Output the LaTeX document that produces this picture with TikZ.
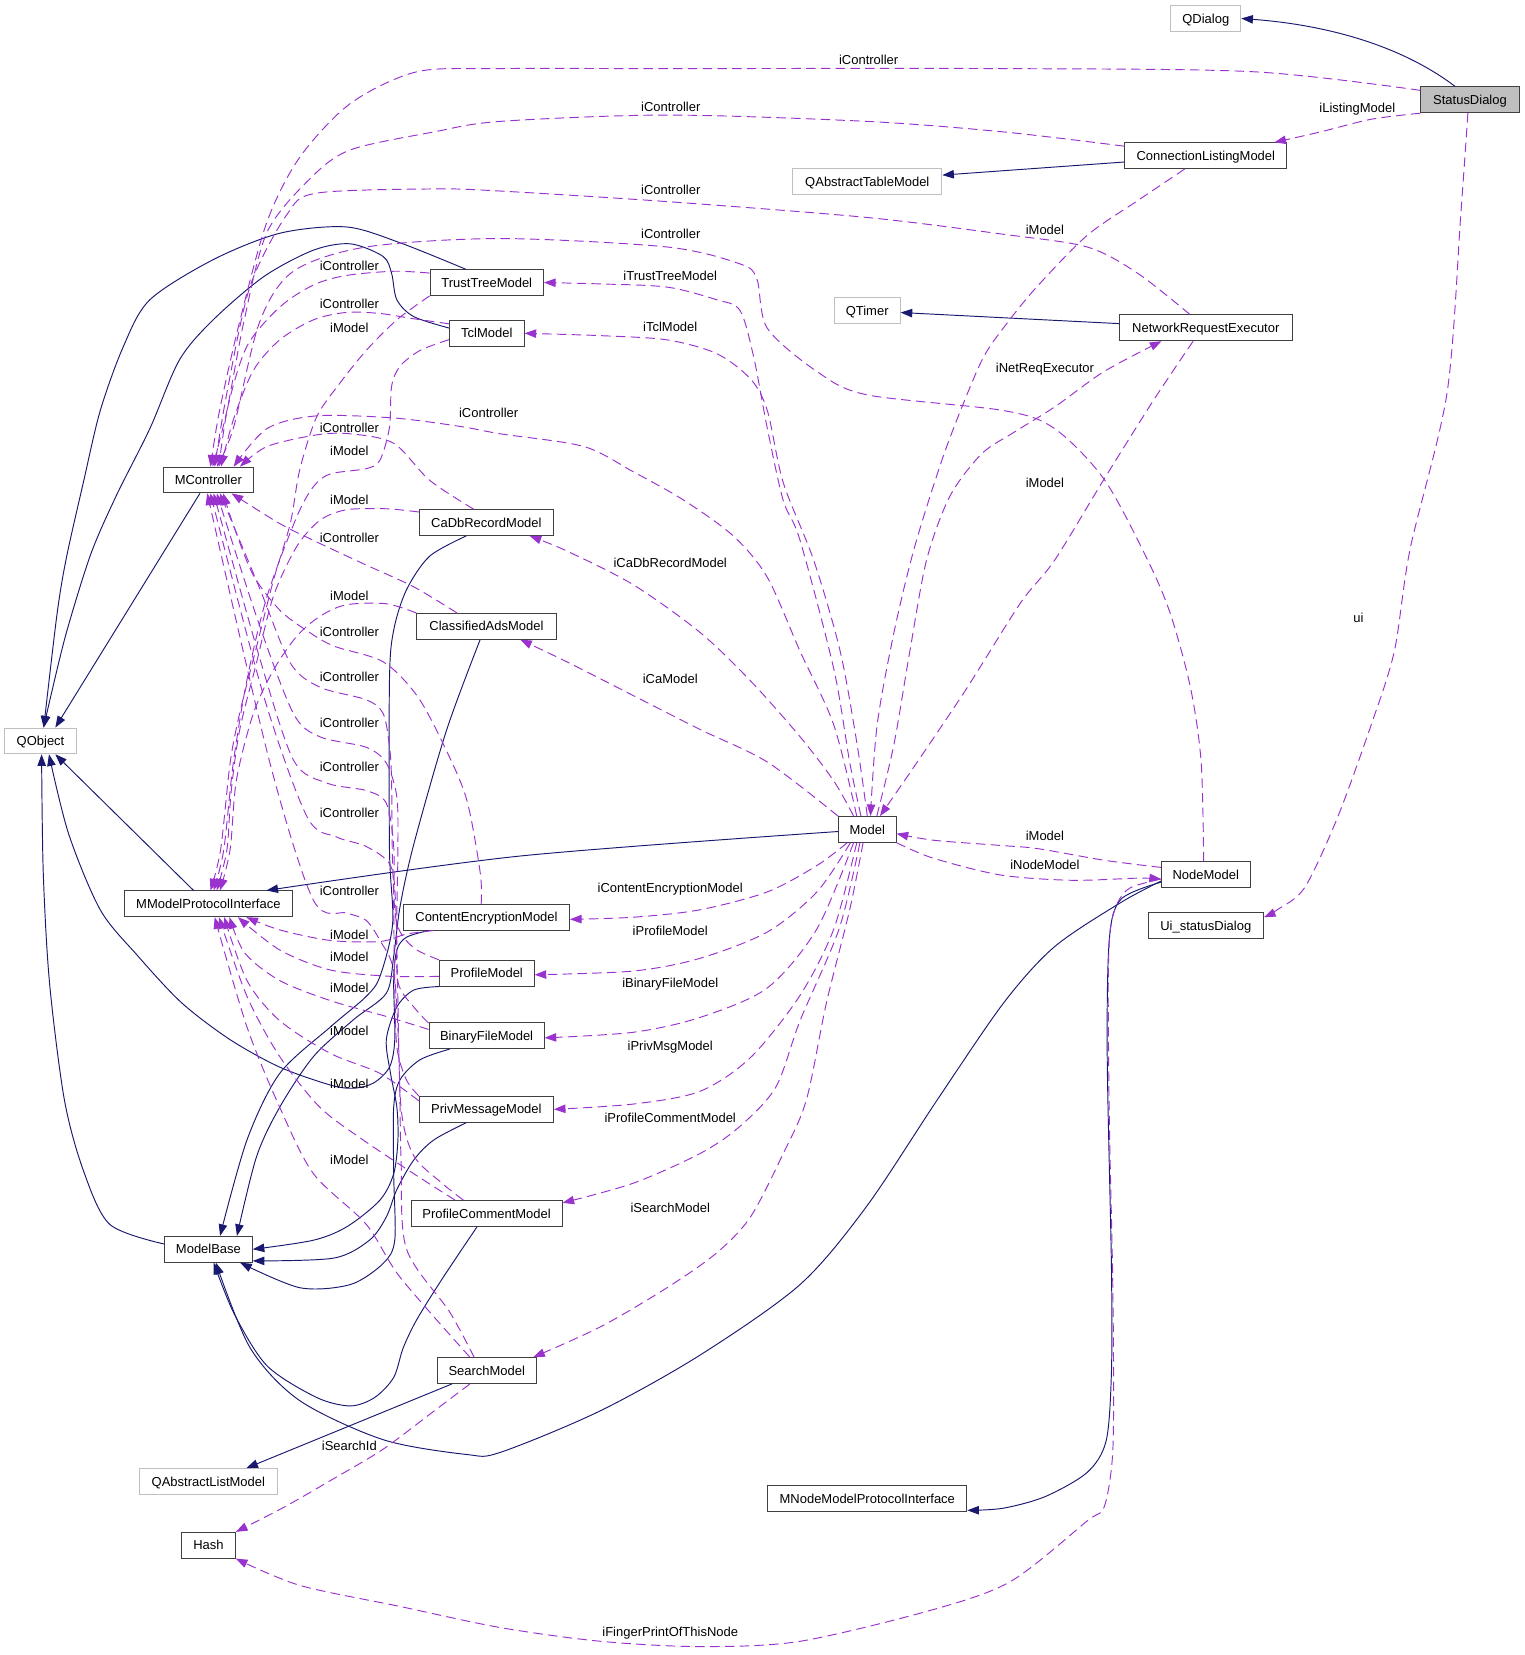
\documentclass[tikz,border=0pt]{standalone}
\usepackage{fontspec}
\setmainfont{Liberation Sans}
\usetikzlibrary{arrows.meta}

\definecolor{inhblue}{HTML}{191970}
\definecolor{usepurple}{HTML}{9A32CD}
\definecolor{extgray}{HTML}{BFBFBF}

\begin{document}
\begin{tikzpicture}[x=1pt, y=-1pt,
    every node/.style={font=\fontsize{12.3}{14}\selectfont},
    cls/.style={draw=black!75, line width=0.9pt, fill=white, minimum height=24.4pt,
      inner xsep=1pt, inner ysep=0pt, text height=8.8pt, text depth=0pt},
    ext/.style={cls, draw=extgray},
    lbl/.style={inner sep=0pt, text height=8.8pt, text depth=0pt},
    inh/.style={draw=inhblue, line width=0.9pt, smooth, -{Triangle[length=11pt,width=8pt]}},
    dep/.style={draw=usepurple, line width=0.9pt, smooth, dash pattern=on 9pt off 5pt,
      -{Triangle[length=11pt,width=8pt]}}]
  \useasboundingbox (0,0) rectangle (1444,1568);

  % classes
  \node[ext, minimum width=66.4pt] (QDialog) at (1142.4,17.5) {QDialog};
  \node[cls, fill=extgray, minimum width=93.3pt] (StatusDialog) at (1392.7,94.6) {StatusDialog};
  \node[cls, minimum width=153.5pt] (CLM) at (1142.4,147.5) {ConnectionListingModel};
  \node[ext, minimum width=141.2pt] (QATM) at (821.7,171.9) {QAbstractTableModel};
  \node[ext, minimum width=62.5pt] (QTimer) at (821.6,294.1) {QTimer};
  \node[cls, minimum width=163.6pt] (NRE) at (1142.4,310.6) {NetworkRequestExecutor};
  \node[cls, minimum width=107.4pt] (TrustTreeModel) at (461.2,267.7) {TrustTreeModel};
  \node[cls, minimum width=70.7pt] (TclModel) at (461.2,315.8) {TclModel};
  \node[cls, minimum width=85.2pt] (MController) at (197.4,454.8) {MController};
  \node[cls, minimum width=127pt] (CaDb) at (460.8,495.1) {CaDbRecordModel};
  \node[cls, minimum width=132pt] (ClassifiedAdsModel) at (460.9,593.4) {ClassifiedAdsModel};
  \node[ext, minimum width=68pt] (QObject) at (38.4,702) {QObject};
  \node[cls, minimum width=54.6pt] (Model) at (821.7,785.8) {Model};
  \node[cls, minimum width=84pt] (NodeModel) at (1142.4,828.8) {NodeModel};
  \node[cls, minimum width=158.6pt] (MMPI) at (197.4,856.3) {MModelProtocolInterface};
  \node[cls, minimum width=157.3pt] (CEM) at (460.9,869) {ContentEncryptionModel};
  \node[cls, minimum width=109.3pt] (Ui) at (1142.4,877) {Ui\_statusDialog};
  \node[cls, minimum width=89.7pt] (ProfileModel) at (461.2,922) {ProfileModel};
  \node[cls, minimum width=109pt] (BinaryFileModel) at (461,981.3) {BinaryFileModel};
  \node[cls, minimum width=127pt] (PrivMessageModel) at (460.8,1051) {PrivMessageModel};
  \node[cls, minimum width=143pt] (PCM) at (461,1149.6) {ProfileCommentModel};
  \node[cls, minimum width=83pt] (ModelBase) at (197.5,1183.6) {ModelBase};
  \node[cls, minimum width=93.5pt] (SearchModel) at (461.2,1298.5) {SearchModel};
  \node[ext, minimum width=130.8pt] (QALM) at (197.4,1403.6) {QAbstractListModel};
  \node[cls, minimum width=188.6pt] (MNMPI) at (821.7,1419.9) {MNodeModelProtocolInterface};
  \node[cls, minimum width=51pt] (Hash) at (197.5,1464) {Hash};

  % inheritance
  \draw[inh] ([xshift=-14pt]StatusDialog.north) .. controls (1330,45) and (1262,24) .. (QDialog.east);
  \draw[inh] ([yshift=-6pt]CLM.west) -- ([yshift=6pt]QATM.east);
  \draw[inh] ([yshift=4pt]NRE.west) -- ([yshift=-2pt]QTimer.east);
  \draw[inh] ([xshift=-8pt]MController.south) -- ([xshift=14pt]QObject.north);
  \draw[inh] ([xshift=-14pt]MMPI.north) -- ([xshift=14pt]QObject.south);
  \draw[inh] plot coordinates {([yshift=5pt]ModelBase.west) (104,1160) (79,1109) (61,1042) (47,932) (41,827) ([xshift=1pt]QObject.south)};
  \draw[inh] plot coordinates {([xshift=-20pt]TrustTreeModel.north) (379,230) (328,215) (265,221) (202,246) (142,284) (117,328) (95,389) (79,457) (63,528) (54,582) ([xshift=3pt]QObject.north)};
  \draw[inh] plot coordinates {([yshift=5pt]TclModel.west) (392,300) (376,284) (371,259) (363,243) (332,231) (297,237) (250,262) (202,303) (170,341) (142,406) (110,470) (86,525) (63,599) (48,660) ([xshift=3pt]QObject.north)};
  \draw[inh] plot coordinates {([yshift=-2pt]Model.west) (493,811) ([xshift=55pt]MMPI.north)};
  \draw[inh] plot coordinates {([xshift=-19pt]CaDb.south) (407,527) (385,559) (373,597) (369,644) (369,805) (372,875) (360,925) (347,944) (313,973) (265,1017) (234,1080) ([xshift=11pt]ModelBase.north)};
  \draw[inh] plot coordinates {([xshift=-6pt]ClassifiedAdsModel.south) (423,692) (392,800) (379,859) (373,906) (366,941) (335,966) (297,1001) (265,1049) (243,1096) ([xshift=27pt]ModelBase.north)};
  \draw[inh] plot coordinates {([xshift=-55pt]CEM.south) (385,888) (376,900) (373,929) (374,985) (369,1011) (354,1026) (335,1031) (313,1028) (265,1011) (218,985) (172,950) (130,905) (95,862) (65,790) ([xshift=8pt]QObject.south)};
  \draw[inh] plot coordinates {(ProfileModel.south west) (392,938) (376,954) (366,985) (370,1017) (376,1049) (377,1080) (373,1112) (360,1137) (329,1162) (297,1175) (ModelBase.east)};
  \draw[inh] plot coordinates {([xshift=-35pt]BinaryFileModel.south) (398,1004) (379,1023) (373,1049) (373,1112) (374,1175) (363,1197) (332,1217) (284,1220) ([xshift=30pt]ModelBase.south)};
  \draw[inh] plot coordinates {([xshift=-19pt]PrivMessageModel.south) (411,1080) (392,1099) (376,1127) (366,1153) (350,1175) (316,1192) ([yshift=-11pt]ModelBase.east)};
  \draw[inh] plot coordinates {([xshift=-9pt]PCM.south) (420,1210) (395,1250) (382,1277) (373,1305) (355,1324) (332,1332) (300,1324) (253,1294) (222,1245) ([xshift=5pt]ModelBase.south)};
  \draw[inh] plot coordinates {([yshift=-6pt]NodeModel.west) (1062,855) (999,897) (951,950) (888,1042) (821,1143) (758,1217) (663,1284) (568,1337) (474,1376) (442,1378) (363,1364) (284,1327) (237,1277) ([xshift=7pt]ModelBase.south)};
  \draw[inh] ([xshift=-33pt]SearchModel.south) -- ([xshift=36pt]QALM.north);
  \draw[inh] plot coordinates {([yshift=-7pt]NodeModel.west) (1062,852) (1051,890) (1049,1000) (1053,1200) (1053,1300) (1048,1365) (1030,1395) (990,1418) (950,1429) ([yshift=-11pt]MNMPI.east)};

  % usage: iController
  \draw[dep] plot coordinates {([yshift=9pt]StatusDialog.west) (1188,68) (951,65) (632,65) (474,65) (395,68) (332,98) (284,149) (253,210) (227,305) (208,389) ([xshift=2pt]MController.north)};
  \draw[dep] plot coordinates {([yshift=9pt]CLM.west) (951,125) (821,115) (632,109) (474,115) (411,125) (332,142) (294,169) (253,220) (231,305) (215,389) ([xshift=4pt]MController.north)};
  \draw[dep] plot coordinates {([xshift=-15pt]NRE.north) (1078,259) (1030,234) (951,222) (821,206) (632,191) (474,181) (411,179) (300,183) (272,203) (237,271) (215,372) ([xshift=6pt]MController.north)};
  \draw[dep] plot coordinates {([xshift=-2pt]NodeModel.north) (1138,722) (1128,652) (1109,582) (1087,530) (1046,454) (999,406) (951,389) (821,374) (774,352) (727,311) (717,264) (701,250) (632,234) (474,226) (347,234) (278,257) (246,305) (221,406) ([xshift=8pt]MController.north)};
  \draw[dep] plot coordinates {([yshift=9pt]TrustTreeModel.west) (373,257) (328,261) (297,270) (265,291) (234,328) (216,385) ([xshift=10pt]MController.north)};
  \draw[dep] plot coordinates {([yshift=9pt]TclModel.west) (392,302) (360,297) (328,296) (297,303) (265,322) (240,351) (221,398) ([xshift=12pt]MController.north)};
  \draw[dep] plot coordinates {([xshift=-10pt]Model.north) (790,687) (758,617) (727,547) (695,508) (648,474) (600,447) (553,423) (474,411) (436,404) (373,396) (300,394) (253,406) ([xshift=24pt]MController.north)};
  \draw[dep] plot coordinates {([xshift=-12pt]CaDb.north) (407,455) (373,420) (332,411) (300,412) (253,423) ([xshift=30pt]MController.north)};
  \draw[dep] plot coordinates {([xshift=-28pt]ClassifiedAdsModel.north) (392,556) (344,534) (297,512) (265,496) ([xshift=22pt]MController.south)};
  \draw[dep] plot coordinates {([xshift=-5pt]CEM.north) (455,827) (442,757) (420,705) (395,659) (363,627) (316,612) (290,597) (265,578) (240,545) (222,500) ([xshift=14pt]MController.south)};
  \draw[dep] plot coordinates {(ProfileModel.north west) (392,898) (376,875) (372,820) (371,740) (369,707) (363,676) (347,663) (303,651) (275,628) (245,555) ([xshift=11pt]MController.south)};
  \draw[dep] plot coordinates {([yshift=12pt]BinaryFileModel.west) (392,954) (377,930) (376,870) (377,805) (376,755) (366,723) (347,708) (303,698) (278,676) (245,590) ([xshift=8pt]MController.south)};
  \draw[dep] plot coordinates {(PrivMessageModel.north west) (385,1023) (376,992) (374,930) (373,860) (373,802) (366,761) (347,749) (310,742) (278,720) (245,620) ([xshift=5pt]MController.south)};
  \draw[dep] plot coordinates {([xshift=-22pt]PCM.north) (420,1122) (392,1095) (380,1050) (377,950) (375,860) (370,820) (347,802) (319,793) (291,774) (250,660) ([xshift=2pt]MController.south)};
  \draw[dep] plot coordinates {([xshift=-12pt]SearchModel.north) (426,1243) (385,1183) (380,1100) (378,1000) (373,920) (360,891) (347,872) (329,865) (297,853) (255,720) ([xshift=-1pt]MController.south)};

  % usage: iModel to MModelProtocolInterface
  \draw[dep] plot coordinates {(TrustTreeModel.south west) (376,303) (347,332) (322,363) (300,395) (284,445) (275,496) (259,550) (243,613) (227,676) (218,723) (209,805) ([xshift=2pt]MMPI.north)};
  \draw[dep] plot coordinates {([yshift=-6pt]TclModel.west) (398,332) (379,347) (371,366) (369,405) (360,436) (347,444) (313,449) (297,461) (281,490) (253,565) (234,644) (221,723) (212,805) ([xshift=5pt]MMPI.north)};
  \draw[dep] plot coordinates {([yshift=10pt]CaDb.west) (366,482) (328,483) (303,493) (281,518) (259,565) (243,628) (227,692) (219,750) (215,805) ([xshift=8pt]MMPI.north)};
  \draw[dep] plot coordinates {(ClassifiedAdsModel.north west) (366,572) (328,573) (303,584) (281,603) (259,635) (240,676) (224,739) (218,805) ([xshift=11pt]MMPI.north)};
  \draw[dep] plot coordinates {([xshift=-50pt]CEM.south) (385,885) (360,892) (313,891) (265,881) ([xshift=36pt]MMPI.south)};
  \draw[dep] plot coordinates {([yshift=-3pt]ProfileModel.west) (370,925) (313,919) (265,900) ([xshift=28pt]MMPI.south)};
  \draw[dep] plot coordinates {([yshift=6pt]BinaryFileModel.west) (366,963) (313,948) (265,929) (232,903) ([xshift=20pt]MMPI.south)};
  \draw[dep] plot coordinates {([yshift=8pt]PrivMessageModel.west) (360,1017) (313,998) (265,967) (234,929) ([xshift=15pt]MMPI.south)};
  \draw[dep] plot coordinates {([xshift=-30pt]PCM.north) (392,1112) (344,1080) (303,1049) (265,1001) (234,944) ([xshift=10pt]MMPI.south)};
  \draw[dep] plot coordinates {([xshift=-16pt]SearchModel.north) (379,1210) (347,1160) (297,1112) (265,1049) (234,973) ([xshift=6pt]MMPI.south)};

  % usage: members of Model
  \draw[dep] plot coordinates {([xshift=-6pt]Model.north) (805,722) (790,634) (758,512) (742,474) (727,406) (714,338) (701,294) (679,284) (632,272) (569,269) (TrustTreeModel.east)};
  \draw[dep] plot coordinates {(Model.north) (812,705) (796,617) (771,531) (742,457) (727,389) (711,359) (679,335) (632,322) (569,318) (TclModel.east)};
  \draw[dep] plot coordinates {([xshift=-13pt]Model.north) (790,740) (758,698) (711,645) (663,599) (600,554) (537,522) ([xshift=41pt]CaDb.south)};
  \draw[dep] plot coordinates {(Model.north west) (727,722) (663,691) (600,659) (537,627) ([xshift=32pt]ClassifiedAdsModel.south)};
  \draw[dep] plot coordinates {([xshift=-19pt]Model.south) (774,820) (727,845) (663,862) (600,869) ([yshift=-2pt]CEM.east)};
  \draw[dep] plot coordinates {([xshift=-16pt]Model.south) (774,845) (727,883) (663,908) (600,920) ([yshift=-1.5pt]ProfileModel.east)};
  \draw[dep] plot coordinates {([xshift=-13pt]Model.south) (774,880) (727,936) (663,964) (600,978) ([yshift=-2pt]BinaryFileModel.east)};
  \draw[dep] plot coordinates {([xshift=-10pt]Model.south) (790,880) (758,943) (711,1002) (663,1034) (600,1046) (PrivMessageModel.east)};
  \draw[dep] plot coordinates {([xshift=-7pt]Model.south) (795,880) (758,967) (735,1030) (700,1068) (663,1093) (600,1121) ([yshift=10pt]PCM.east)};
  \draw[dep] plot coordinates {([xshift=-4pt]Model.south) (805,862) (783,950) (764,1042) (742,1093) (711,1153) (679,1187) (632,1220) (569,1257) ([xshift=44pt]SearchModel.north)};
  \draw[dep] plot coordinates {([xshift=9pt]Model.north) (847,705) (862,617) (878,530) (900,470) (930,430) (960,410) (1000,385) (1046,352) ([xshift=-42pt]NRE.south)};
  \draw[dep] plot coordinates {(Model.south east) (884,813) (948,829) (1015,834) (1078,832) ([yshift=-4pt]NodeModel.west)};

  % usage: iModel to Model
  \draw[dep] plot coordinates {([xshift=-20pt]CLM.south) (1078,190) (1030,223) (983,271) (955,305) (932,338) (910,389) (891,440) (866,520) (847,599) (831,687) ([xshift=3pt]Model.north)};
  \draw[dep] plot coordinates {([xshift=-12pt]NRE.south) (1093,379) (1046,454) (999,531) (967,571) (916,652) (869,722) ([xshift=12pt]Model.north)};
  \draw[dep] plot coordinates {([yshift=7pt]NodeModel.west) (1046,815) (983,804) (948,801) (884,796) ([yshift=-4pt]Model.east)};

  % usage: others
  \draw[dep] plot coordinates {(StatusDialog.south west) (1299,113) (1251,125) ([xshift=65pt]CLM.north)};
  \draw[dep] plot coordinates {([xshift=-2pt]StatusDialog.south) (1384,203) (1371,372) (1336,520) (1321,617) (1299,687) (1267,775) (1236,841) (1210,862) ([yshift=8pt]Ui.east)};
  \draw[dep] plot coordinates {([yshift=-4pt]NodeModel.west) (1071,841) (1059,855) (1052,880) (1050,932) (1051,1061) (1054,1200) (1055,1300) (1054,1380) (1046,1428) (1030,1441) (958,1498) (884,1525) (758,1555) (663,1560) (569,1555) (474,1542) (379,1522) (284,1502) (Hash.south east)};
  \draw[dep] plot coordinates {([xshift=-16pt]SearchModel.south) (411,1337) (363,1373) (316,1401) (269,1428) (Hash.north east)};

  % edge labels
  \node[lbl] (l1) at (823,57) {iController};
  \node[lbl] (l2) at (1286,102.5) {iListingModel};
  \node[lbl] (l3) at (635.5,101.5) {iController};
  \node[lbl] (l4) at (635.5,180) {iController};
  \node[lbl] (l5) at (990,218) {iModel};
  \node[lbl] (l6) at (635.5,222) {iController};
  \node[lbl] (l7) at (331,252) {iController};
  \node[lbl] (l8) at (635,261.6) {iTrustTreeModel};
  \node[lbl] (l9) at (331,288) {iController};
  \node[lbl] (l10) at (331,311) {iModel};
  \node[lbl] (l11) at (635,310) {iTclModel};
  \node[lbl] (l12) at (990,348.6) {iNetReqExecutor};
  \node[lbl] (l13) at (463,391) {iController};
  \node[lbl] (l14) at (331,405) {iController};
  \node[lbl] (l15) at (331,427) {iModel};
  \node[lbl] (l16) at (990,457) {iModel};
  \node[lbl] (l17) at (331,474) {iModel};
  \node[lbl] (l18) at (331,510) {iController};
  \node[lbl] (l19) at (635,533.4) {iCaDbRecordModel};
  \node[lbl] (l20) at (331,565) {iModel};
  \node[lbl] (l21) at (1287,585) {ui};
  \node[lbl] (l22) at (331,598.5) {iController};
  \node[lbl] (l23) at (331,641) {iController};
  \node[lbl] (l24) at (635,643) {iCaModel};
  \node[lbl] (l25) at (331,684.7) {iController};
  \node[lbl] (l26) at (331,727) {iController};
  \node[lbl] (l27) at (331,770) {iController};
  \node[lbl] (l28) at (990,792) {iModel};
  \node[lbl] (l29) at (990,819) {iNodeModel};
  \node[lbl] (l30) at (635,841) {iContentEncryptionModel};
  \node[lbl] (l31) at (331,843.9) {iController};
  \node[lbl] (l32) at (635,881.5) {iProfileModel};
  \node[lbl] (l33) at (331,885.3) {iModel};
  \node[lbl] (l34) at (331,906.4) {iModel};
  \node[lbl] (l35) at (635,931.3) {iBinaryFileModel};
  \node[lbl] (l36) at (331,935.5) {iModel};
  \node[lbl] (l37) at (331,976.6) {iModel};
  \node[lbl] (l38) at (635,991.2) {iPrivMsgModel};
  \node[lbl] (l39) at (331,1027) {iModel};
  \node[lbl] (l40) at (635,1059) {iProfileCommentModel};
  \node[lbl] (l41) at (331,1099) {iModel};
  \node[lbl] (l42) at (635,1144.6) {iSearchModel};
  \node[lbl] (l43) at (331,1370.3) {iSearchId};
  \node[lbl] (l44) at (635,1546.3) {iFingerPrintOfThisNode};
\end{tikzpicture}
\end{document}
